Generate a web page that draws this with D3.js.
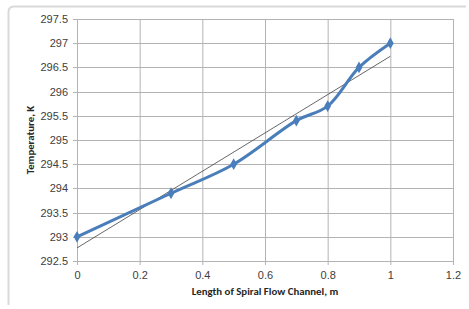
<!DOCTYPE html>
<html>
<head>
<meta charset="utf-8">
<script src="https://cdn.jsdelivr.net/npm/d3@7"></script>
<style>
  body { margin: 0; background: #fff; }
  svg { display: block; font-family: Calibri, Carlito, "Open Sans", sans-serif; }
  .tick text { fill: #404040; font-size: 11px; }
</style>
</head>
<body>
<script>
// data
const lengths = [0, 0.3, 0.5, 0.7, 0.8, 0.9, 1];
const temps = [293, 293.9, 294.5, 295.4, 295.7, 296.5, 297];
// linear trend line endpoints
const trendX = [0, 1];
const trendY = [292.77, 296.73];
const xTicks = [0, 0.2, 0.4, 0.6, 0.8, 1, 1.2];
const yTicks = [292.5, 293, 293.5, 294, 294.5, 295, 295.5, 296, 296.5, 297, 297.5];

const width = 469, height = 309;
const margin = {top: 19, right: 16, bottom: 48, left: 77};

const svg = d3.select("body").append("svg").attr("width", width).attr("height", height);

// chart area frame (faint, like the excel shadowed border)
svg.append("path")
   .attr("d", "M8.5,305 L8.5,12 Q8.5,6.5 14,6.5 L466,6.5")
   .attr("fill", "none").attr("stroke", "#d9d9d9").attr("stroke-width", 2);

const x = d3.scaleLinear().domain([0, 1.2]).range([margin.left, width - margin.right]);
const y = d3.scaleLinear().domain([292.5, 297.5]).range([height - margin.bottom, margin.top]);

// grid
const grid = svg.append("g");
grid.selectAll(".gx").data(xTicks).enter().append("line")
    .attr("x1", d => x(d) + 0.5).attr("x2", d => x(d) + 0.5)
    .attr("y1", y(297.5)).attr("y2", y(292.5) + 4)
    .attr("stroke", "#b3b3b3");
grid.selectAll(".gy").data(yTicks).enter().append("line")
    .attr("x1", x(0) - 4).attr("x2", x(1.2))
    .attr("y1", d => Math.round(y(d)) + 0.5).attr("y2", d => Math.round(y(d)) + 0.5)
    .attr("stroke", "#b3b3b3");

// axes (labels only, lines come from the grid)
svg.append("g").attr("transform", `translate(0,${y(292.5)})`)
   .call(d3.axisBottom(x).tickValues(xTicks).tickFormat(d3.format("~g")).tickSize(0).tickPadding(10));
svg.append("g").attr("transform", `translate(${x(0)},0)`)
   .call(d3.axisLeft(y).tickValues(yTicks).tickFormat(d3.format("~g")).tickSize(0).tickPadding(9));
svg.selectAll(".domain").remove();

// titles
svg.append("text").attr("x", (x(0) + x(1.2)) / 2).attr("y", 295)
   .attr("text-anchor", "middle").attr("font-size", 10.8).attr("font-weight", "bold").attr("fill", "#262626")
   .text("Length of Spiral Flow Channel, m");
svg.append("text").attr("transform", `translate(34,${(y(292.5) + y(297.5)) / 2}) rotate(-90)`)
   .attr("text-anchor", "middle").attr("font-size", 10.8).attr("font-weight", "bold").attr("fill", "#262626")
   .text("Temperature, K");

// trend line
svg.append("line")
   .attr("x1", x(trendX[0])).attr("y1", y(trendY[0]))
   .attr("x2", x(trendX[1])).attr("y2", y(trendY[1]))
   .attr("stroke", "#404040").attr("stroke-width", 0.8);

// data series
const pts = lengths.map((d, i) => [d, temps[i]]);
const line = d3.line().x(d => x(d[0])).y(d => y(d[1])).curve(d3.curveCatmullRom.alpha(0.5));
svg.append("path").datum(pts).attr("d", line)
   .attr("fill", "none").attr("stroke", "#4a7ebb").attr("stroke-width", 3).attr("stroke-linejoin", "round");

svg.selectAll(".marker").data(pts).enter().append("path")
   .attr("transform", d => `translate(${x(d[0])},${y(d[1])})`)
   .attr("d", d3.symbol(d3.symbolDiamond, 40))
   .attr("fill", "#4a7ebb");
</script>
</body>
</html>
